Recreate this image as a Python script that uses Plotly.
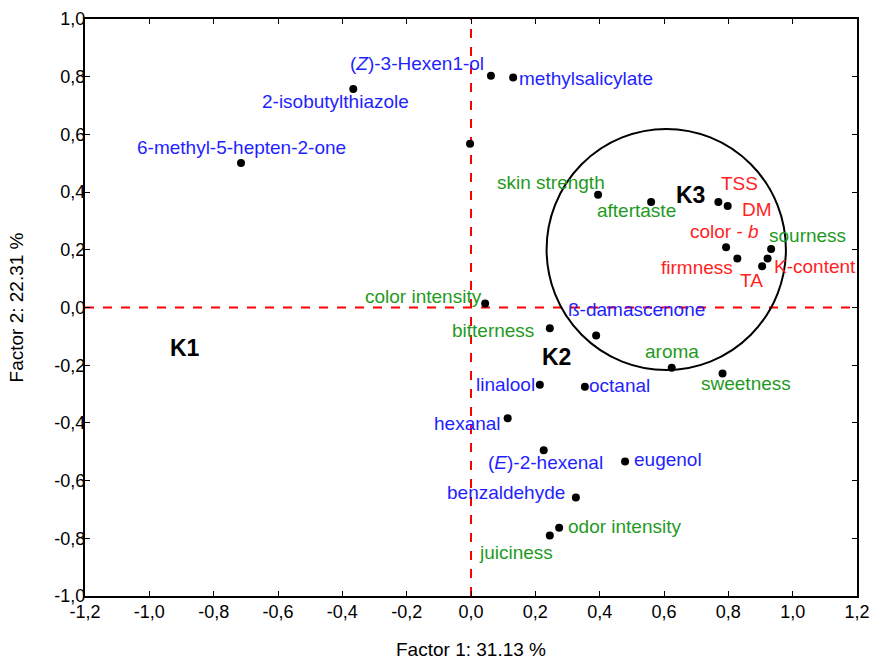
import plotly.graph_objects as go

# ---- data ----
names = ["6-methyl-5-hepten-2-one", "2-isobutylthiazole", "(<i>Z</i>)-3-Hexen1-ol",
         "methylsalicylate", "", "skin strength", "aftertaste", "TSS", "DM",
         "color - <i>b</i>", "firmness", "sourness", "K-content", "TA",
         "color intensity", "bitterness", "ß-damascenone", "aroma", "sweetness",
         "linalool", "octanal", "hexanal", "(<i>E</i>)-2-hexenal", "eugenol",
         "benzaldehyde", "odor intensity", "juiciness"]
factor1 = [-0.715, -0.366, 0.062, 0.131, -0.003, 0.395, 0.560, 0.769, 0.798,
           0.793, 0.828, 0.933, 0.922, 0.905, 0.044, 0.245, 0.389, 0.624, 0.782,
           0.214, 0.354, 0.114, 0.226, 0.479, 0.326, 0.274, 0.245]
factor2 = [0.501, 0.757, 0.803, 0.797, 0.568, 0.391, 0.366, 0.366, 0.352,
           0.209, 0.170, 0.203, 0.170, 0.143, 0.014, -0.072, -0.097, -0.209, -0.229,
           -0.268, -0.275, -0.384, -0.495, -0.534, -0.659, -0.763, -0.790]
group = ["vol", "vol", "vol", "vol", "vol", "sens", "sens", "phys", "phys",
         "phys", "phys", "sens", "phys", "phys", "sens", "sens", "vol", "sens", "sens",
         "vol", "vol", "vol", "vol", "vol", "vol", "sens", "sens"]

clusters = ["K1", "K2", "K3"]
cluster_x = [-0.889, 0.267, 0.681]
cluster_y = [-0.142, -0.170, 0.391]

circle_cx, circle_cy = 0.607, 0.201
circle_rx, circle_ry = 0.372, 0.418

tick_vals_x = [-1.2, -1.0, -0.8, -0.6, -0.4, -0.2, 0.0, 0.2, 0.4, 0.6, 0.8, 1.0, 1.2]
tick_text_x = ["-1,2", "-1,0", "-0,8", "-0,6", "-0,4", "-0,2", "0,0", "0,2", "0,4",
               "0,6", "0,8", "1,0", "1,2"]
tick_vals_y = [-1.0, -0.8, -0.6, -0.4, -0.2, 0.0, 0.2, 0.4, 0.6, 0.8, 1.0]
tick_text_y = ["-1,0", "-0,8", "-0,6", "-0,4", "-0,2", "0,0", "0,2", "0,4", "0,6",
               "0,8", "1,0"]

# ---- styles ----
colors = {"vol": "#1f1fff", "sens": "#1f9a1f", "phys": "#ff1f1f"}
# label pixel offsets (x right, y up)
label_shift = [(0, 15), (-18, -12), (-74, 12), (73, -1), (0, 0), (-47, 12), (-15, -9),
               (21, 18), (29, -4), (-2, 16), (-40, -9), (36, 13), (47, -8), (-11, -14),
               (-62, 7), (-57, -2), (40, 26), (0, 16), (23, -10), (-34, 0), (35, 1),
               (-40, -5), (2, -12), (43, 2), (-70, 5), (66, 1), (-34, -17)]

FONT = "Liberation Sans, Arial, sans-serif"

fig = go.Figure()
fig.add_trace(go.Scatter(x=factor1, y=factor2, mode="markers",
                         marker=dict(color="black", size=8), hoverinfo="text",
                         text=names, showlegend=False))

annotations = []
for n, x, y, g, (dx, dy) in zip(names, factor1, factor2, group, label_shift):
    if not n:
        continue
    annotations.append(dict(x=x, y=y, text=n, showarrow=False, xshift=dx, yshift=dy,
                            font=dict(family=FONT, size=19, color=colors[g])))
for n, x, y in zip(clusters, cluster_x, cluster_y):
    annotations.append(dict(x=x, y=y, text="<b>%s</b>" % n, showarrow=False,
                            font=dict(family=FONT, size=23, color="black")))

shapes = [
    dict(type="line", xref="x", yref="paper", x0=0, x1=0, y0=0, y1=1,
         line=dict(color="red", width=2, dash="dash"), layer="below"),
    dict(type="line", xref="paper", yref="y", x0=0, x1=1, y0=0, y1=0,
         line=dict(color="red", width=2, dash="dash"), layer="below"),
    dict(type="circle", xref="x", yref="y",
         x0=circle_cx - circle_rx, x1=circle_cx + circle_rx,
         y0=circle_cy - circle_ry, y1=circle_cy + circle_ry,
         line=dict(color="black", width=2)),
]

axis_common = dict(showgrid=False, zeroline=False, showline=True, linecolor="black",
                   linewidth=2, mirror="ticks", ticks="inside", ticklen=5,
                   tickcolor="black", tickwidth=1, automargin=False,
                   tickfont=dict(family=FONT, size=18, color="black"))

fig.update_layout(
    width=871, height=661,
    margin=dict(l=85, r=14, t=19, b=65),
    paper_bgcolor="white", plot_bgcolor="white",
    xaxis=dict(range=[-1.2, 1.2], tickvals=tick_vals_x, ticktext=tick_text_x,
               ticklabelstandoff=-2,
               title=dict(text="Factor 1: 31.13 %", font=dict(family=FONT, size=19, color="black"),
                          standoff=22),
               **axis_common),
    yaxis=dict(range=[-1.0, 1.0], tickvals=tick_vals_y, ticktext=tick_text_y,
               ticklabelstandoff=-6,
               title=dict(text="Factor 2: 22.31 %", font=dict(family=FONT, size=19, color="black"),
                          standoff=26),
               **axis_common),
    annotations=annotations,
    shapes=shapes,
)

fig.write_html("out.html",
               config={"displayModeBar": False},
               post_script="document.body.style.margin='0px';"
                           "document.body.style.overflow='hidden';")
